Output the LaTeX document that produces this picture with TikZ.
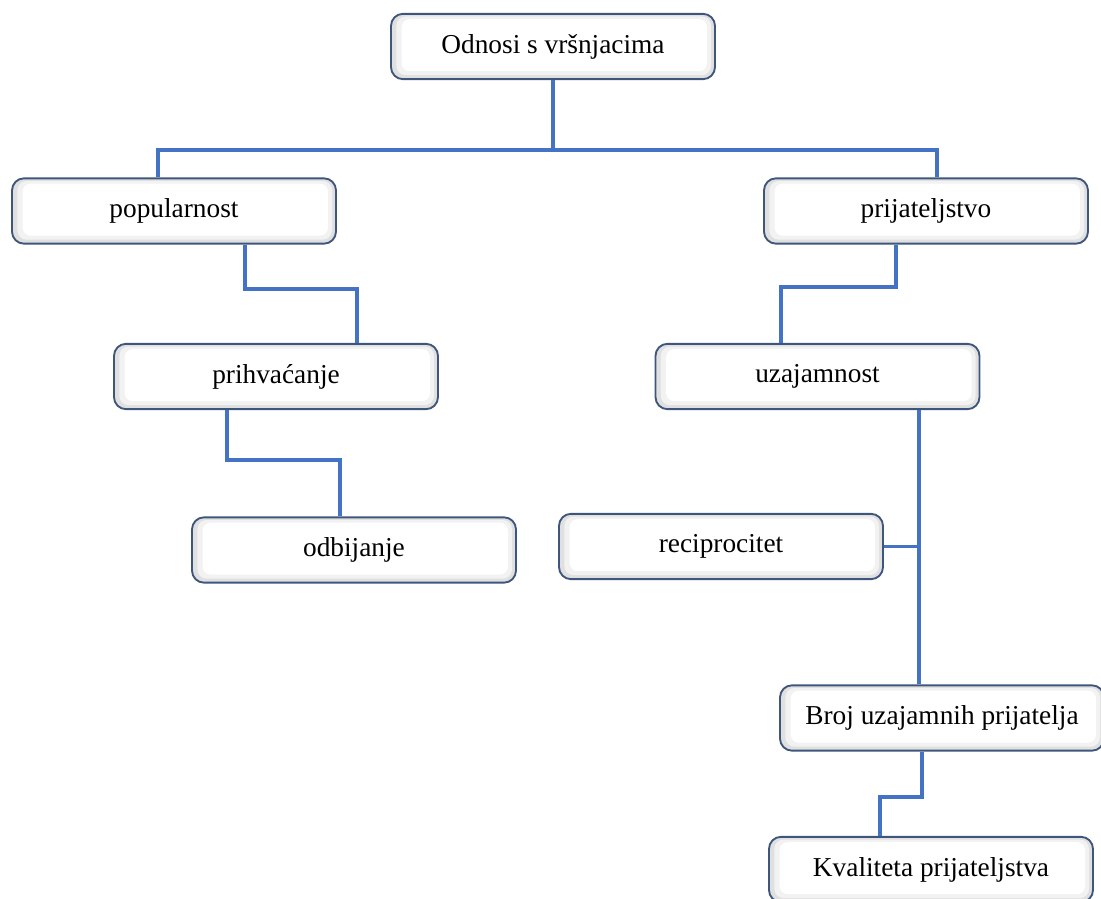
\documentclass[tikz,border=0pt]{standalone}
\usepackage{fontspec}
\setmainfont{Liberation Serif}
\definecolor{linkblue}{RGB}{68,114,196}
\definecolor{boxline}{RGB}{62,86,124}
\tikzset{
  box/.style={rounded corners=9pt, draw=boxline, line width=1.4pt, fill=gray!24,
    minimum width=243pt, minimum height=49pt, inner sep=0pt,
    font=\fontsize{20.5}{24}\selectfont,
    path picture={
      \fill[gray!10, rounded corners=7pt] ([xshift=4pt,yshift=3pt]path picture bounding box.south west) rectangle ([xshift=-3pt,yshift=-2pt]path picture bounding box.north east);
      \fill[white, rounded corners=6pt] ([xshift=8pt,yshift=6pt]path picture bounding box.south west) rectangle ([xshift=-6pt,yshift=-4pt]path picture bounding box.north east);
    }},
  link/.style={draw=linkblue, line width=2.6pt}
}
\begin{document}
\begin{tikzpicture}[x=0.75pt,y=0.75pt,yscale=-1,xscale=1]
\useasboundingbox (0,0) rectangle (1101,899);

% Boxes
\node[box] (odnosi) at (553,46.5) {Odnosi s vršnjacima};
\node[box] (popularnost) at (174,211) {popularnost};
\node[box] (prijateljstvo) at (926,211) {prijateljstvo};
\node[box] (prihvacanje) at (276,376.5) {prihvaćanje};
\node[box] (uzajamnost) at (817.5,376.5) {uzajamnost};
\node[box] (odbijanje) at (354,550) {odbijanje};
\node[box] (reciprocitet) at (721,546.5) {reciprocitet};
\node[box] (broj) at (942,718) {Broj uzajamnih prijatelja};
\node[box] (kvaliteta) at (931,869.5) {Kvaliteta prijateljstva};

% Bend points
\coordinate (top) at (553,150);
\coordinate (topl) at (158,150);
\coordinate (topr) at (937,150);
\coordinate (popa) at (245,289);
\coordinate (popb) at (357,289);
\coordinate (prija) at (896,287);
\coordinate (prijb) at (781,287);
\coordinate (prha) at (227,460);
\coordinate (prhb) at (340,460);
\coordinate (spine) at (919,545);
\coordinate (broja) at (922,797);
\coordinate (brojb) at (880,797);

% Connectors
\draw[link] (odnosi.south) -- (top);
\draw[link] (popularnost.north -| topl) -- (topl) -- (topr) -- (prijateljstvo.north -| topr);
\draw[link] (popularnost.south -| popa) -- (popa) -- (popb) -- (prihvacanje.north -| popb);
\draw[link] (prijateljstvo.south -| prija) -- (prija) -- (prijb) -- (uzajamnost.north -| prijb);
\draw[link] (prihvacanje.south -| prha) -- (prha) -- (prhb) -- (odbijanje.north -| prhb);
\draw[link] (uzajamnost.south -| spine) -- (broj.north -| spine);
\draw[link] (reciprocitet.east) -- (reciprocitet.east -| spine);
\draw[link] (broj.south -| broja) -- (broja) -- (brojb) -- (kvaliteta.north -| brojb);

\end{tikzpicture}
\end{document}
